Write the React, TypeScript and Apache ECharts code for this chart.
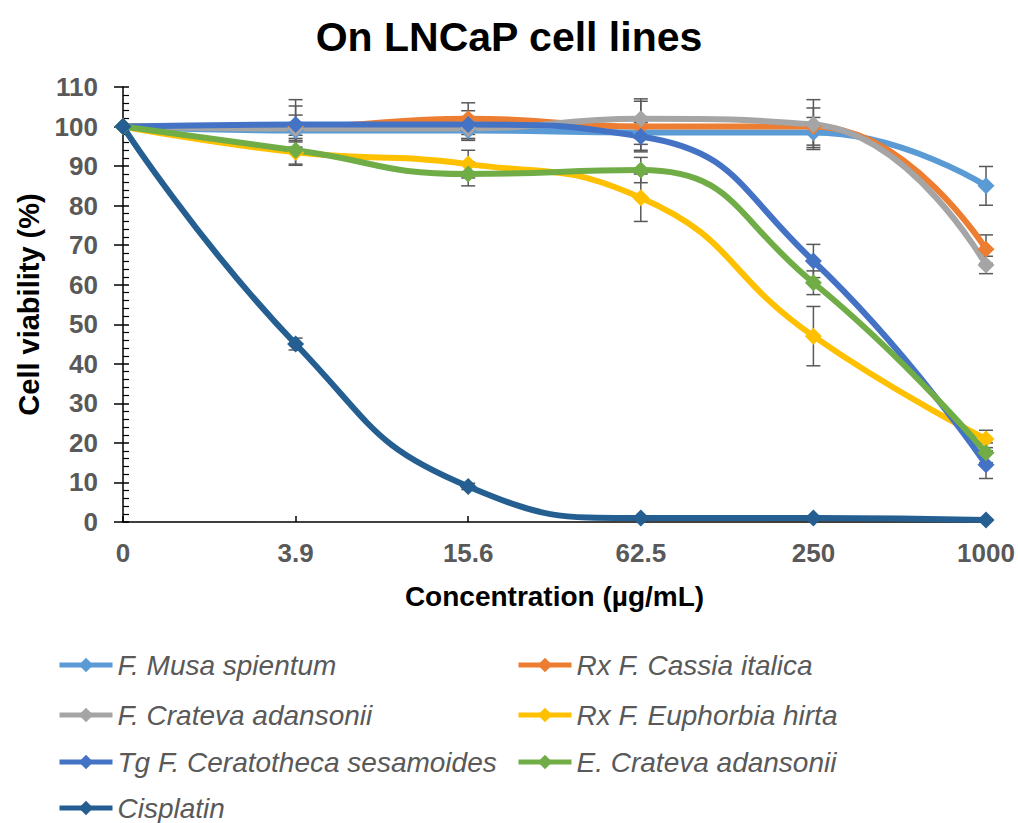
import React, { useEffect, useRef } from 'react';
import * as echarts from 'echarts';

const categories = ['0', '3.9', '15.6', '62.5', '250', '1000'];
const yTicks = { min: 0, max: 110, interval: 10 };

const names = [
  'F. Musa spientum',
  'Rx F. Cassia italica',
  'F. Crateva adansonii',
  'Rx F. Euphorbia hirta',
  'Tg F. Ceratotheca sesamoides',
  'E. Crateva adansonii',
  'Cisplatin',
];
const colors = ['#5B9BD5', '#ED7D31', '#A5A5A5', '#FFC000', '#4472C4', '#70AD47', '#255E91'];

const musa = [100, 99, 99, 98.5, 98.5, 85];
const cassia = [100, 100, 102, 100, 100, 69];
const crateF = [100, 99.5, 99.5, 102, 100.5, 65];
const euphorbia = [100, 93.5, 90.5, 82, 47, 21];
const ceratotheca = [100, 100.5, 100.5, 97.5, 66, 14.5];
const crateE = [100, 94, 88, 89, 60.5, 17.5];
const cisplatin = [100, 45, 9, 1, 1, 0.5];

const musaErr = [0, 2, 2.1, 3, 3.8, 4.9];
const cassiaErr = [0, 5.2, 4, 6.4, 4.7, 3.6];
const crateFErr = [0, 3.4, 3, 5, 6.3, 2.2];
const euphorbiaErr = [0, 3, 3.5, 6, 7.5, 2.2];
const ceratothecaErr = [0, 6.3, 3.5, 3.5, 4.2, 3.5];
const crateEErr = [0, 3.8, 3, 3.2, 3, 2.5];
const cisplatinErr = [0, 1.5, 0.8, 0.5, 0.5, 0.3];

const values = [musa, cassia, crateF, euphorbia, ceratotheca, crateE, cisplatin];
const errors = [musaErr, cassiaErr, crateFErr, euphorbiaErr, ceratothecaErr, crateEErr, cisplatinErr];

const FONT = 'Liberation Sans, Arial, sans-serif';

export default function App() {
  const ref = useRef<HTMLDivElement>(null);
  useEffect(() => {
    if (!ref.current) return;
    const chart = echarts.init(ref.current, null, { renderer: 'svg' });

    const errData: number[][] = [];
    values.forEach((vals, s) => {
      vals.forEach((v, i) => {
        if (errors[s][i] > 0) errData.push([i, v, errors[s][i]]);
      });
    });

    const lineSeries = values.map((vals, s) => ({
      name: names[s],
      type: 'line',
      data: vals,
      smooth: 0.5,
      symbol: 'diamond',
      symbolSize: 17,
      z: 3,
      lineStyle: { color: colors[s], width: 6 },
      itemStyle: { color: colors[s] },
    }));

    const legendPos = [
      [57, 665], [516, 665],
      [57, 715], [516, 715],
      [57, 762], [516, 762],
      [57, 808],
    ];
    const legends = names.map((n, i) => ({
      data: [n],
      left: legendPos[i][0],
      top: legendPos[i][1] - 15,
      padding: 0,
      itemWidth: 53,
      itemHeight: 18,
      itemGap: 6,
      lineStyle: { width: 5 },
      textStyle: {
        fontFamily: FONT,
        fontStyle: 'italic',
        fontSize: 28,
        lineHeight: 30,
        color: '#595959',
      },
    }));

    chart.setOption({
      animation: false,
      backgroundColor: '#ffffff',
      title: {
        text: 'On LNCaP cell lines',
        left: 'center',
        top: 11,
        textStyle: { fontFamily: FONT, fontWeight: 'bold', fontSize: 41, color: '#000000' },
      },
      legend: legends,
      grid: { left: 123, right: 32, top: 87, bottom: 301 },
      xAxis: {
        type: 'category',
        data: categories,
        boundaryGap: false,
        name: 'Concentration (µg/mL)',
        nameLocation: 'middle',
        nameGap: 60,
        nameTextStyle: { fontFamily: FONT, fontWeight: 'bold', fontSize: 28, color: '#000000' },
        axisLine: { lineStyle: { color: '#000000', width: 1.5 } },
        axisTick: { show: true, inside: true, length: 6, alignWithLabel: true, lineStyle: { color: '#000000', width: 1.5 } },
        axisLabel: { fontFamily: FONT, fontWeight: 'bold', fontSize: 26, color: '#595959', margin: 18 },
        splitLine: { show: false },
      },
      yAxis: [
        {
          type: 'value',
          min: yTicks.min,
          max: yTicks.max,
          interval: yTicks.interval,
          name: 'Cell viability (%)',
          nameLocation: 'middle',
          nameGap: 80,
          nameTextStyle: { fontFamily: FONT, fontWeight: 'bold', fontSize: 29, color: '#000000' },
          axisLine: { show: true, lineStyle: { color: '#000000', width: 1.5 } },
          axisTick: { show: true, inside: false, length: 9, lineStyle: { color: '#000000', width: 1.5 } },
          axisLabel: { fontFamily: FONT, fontWeight: 'bold', fontSize: 26, color: '#595959', margin: 25 },
          splitLine: { show: false },
        },
        {
          type: 'value',
          min: yTicks.min,
          max: yTicks.max,
          interval: yTicks.interval,
          position: 'left',
          axisLine: { show: false },
          axisLabel: { show: false },
          axisTick: { show: true, inside: true, length: 6, lineStyle: { color: '#000000', width: 1.5 } },
          minorTick: { show: true, splitNumber: 5, length: 6, lineStyle: { color: '#000000', width: 1.2 } },
          splitLine: { show: false },
        },
      ],
      series: [
        {
          type: 'custom',
          z: 1,
          clip: false,
          data: errData,
          encode: { x: 0, y: 1 },
          renderItem: (params: any, api: any) => {
            const x = api.value(0);
            const y = api.value(1);
            const e = api.value(2);
            const top = api.coord([x, y + e]);
            const bot = api.coord([x, y - e]);
            const w = 7;
            const style = { stroke: '#595959', lineWidth: 1.5 };
            return {
              type: 'group',
              children: [
                { type: 'line', shape: { x1: top[0], y1: top[1], x2: bot[0], y2: bot[1] }, style },
                { type: 'line', shape: { x1: top[0] - w, y1: top[1], x2: top[0] + w, y2: top[1] }, style },
                { type: 'line', shape: { x1: bot[0] - w, y1: bot[1], x2: bot[0] + w, y2: bot[1] }, style },
              ],
            };
          },
        },
        ...lineSeries,
      ],
    });
    return () => chart.dispose();
  }, []);
  return <div ref={ref} style={{ position: 'absolute', left: 0, top: 0, width: 1018, height: 823 }} />;
}
